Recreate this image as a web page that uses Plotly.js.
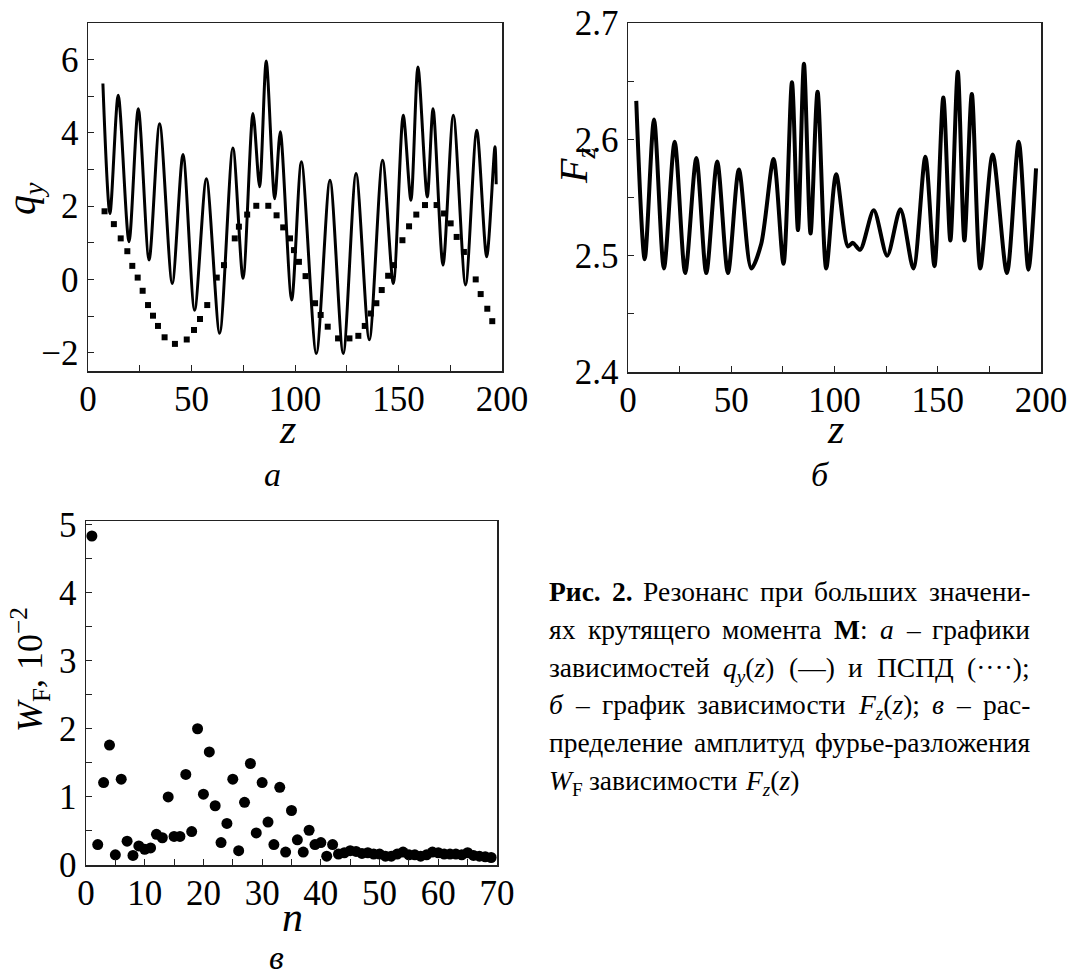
<!DOCTYPE html>
<html><head><meta charset="utf-8">
<script src="https://cdn.plot.ly/plotly-3.0.1.min.js"></script>
<style>body{margin:0;background:#fff}</style>
</head><body>
<div id="chart" style="width:1072px;height:980px"></div>
<script>
// ---------- data: panel а (q_y(z) and ПСПД) ----------
const qyZ = [7.2, 10.6, 14.6, 19.8, 24.3, 29.5, 34.6, 40.7, 45.9, 51.5, 57.2, 63.6, 70.0, 74.9, 79.7, 82.9, 86.1, 90.2, 92.9, 98.4, 103.1, 110.3, 116.9, 123.3, 129.5, 135.9, 142.3, 147.5, 152.3, 156.0, 159.4, 163.9, 166.7, 171.5, 176.5, 182.4, 187.8, 192.6, 196.6, 197.2];
const qyVal = [5.35, 1.8, 5.03, 1.03, 4.66, 0.53, 4.25, -0.11, 3.41, -0.84, 2.75, -1.47, 3.59, 0.03, 4.53, 2.53, 5.96, 2.2, 4.03, -0.56, 3.21, -2.02, 2.71, -2.02, 2.89, -1.65, 3.25, -0.11, 4.48, 2.16, 5.8, 2.25, 4.66, 0.39, 4.48, -0.15, 4.07, 0.62, 3.62, 2.6];
const pspdZ = [8.0, 12.5, 15.8, 19.0, 21.4, 24.0, 26.4, 29.0, 31.4, 33.8, 37.0, 42.0, 47.7, 51.2, 54.1, 57.6, 62.2, 65.7, 70.9, 72.9, 76.9, 81.3, 87.1, 91.1, 94.3, 97.6, 99.5, 101.9, 105.1, 109.7, 112.4, 115.8, 120.8, 126.3, 130.6, 133.7, 136.6, 139.3, 141.9, 145.0, 147.8, 151.9, 155.1, 158.6, 162.8, 168.4, 172.0, 175.2, 178.1, 181.6, 187.3, 189.7, 192.9, 195.3];
const pspdVal = [1.86, 1.51, 1.12, 0.77, 0.37, 0.05, -0.31, -0.70, -0.99, -1.27, -1.58, -1.76, -1.64, -1.38, -1.08, -0.70, 0.05, 0.39, 1.12, 1.44, 1.77, 2.01, 2.01, 1.75, 1.42, 1.12, 0.80, 0.48, 0.09, -0.65, -0.97, -1.29, -1.61, -1.61, -1.54, -1.27, -0.93, -0.65, -0.29, 0.10, 0.39, 1.07, 1.45, 1.77, 2.03, 2.03, 1.80, 1.53, 1.16, 0.75, 0.0, -0.4, -0.8, -1.14];

// ---------- data: panel б (F_z(z)) ----------
const fzZ = [4.0, 8.1, 12.6, 17.4, 22.6, 27.7, 33.1, 37.9, 43.2, 48.4, 53.7, 59.7, 64.5, 70.5, 75.3, 79.4, 82.3, 85.2, 88.4, 91.8, 96.0, 100.8, 106.5, 108.9, 112.4, 119.0, 125.5, 131.9, 138.2, 144.0, 148.4, 152.7, 156.1, 159.7, 162.9, 166.5, 170.6, 176.6, 183.5, 189.2, 193.9, 197.6];
const fzVal = [2.633, 2.497, 2.617, 2.489, 2.598, 2.485, 2.584, 2.485, 2.581, 2.485, 2.574, 2.489, 2.510, 2.583, 2.493, 2.649, 2.522, 2.665, 2.519, 2.641, 2.489, 2.570, 2.508, 2.511, 2.505, 2.539, 2.500, 2.540, 2.489, 2.585, 2.491, 2.636, 2.513, 2.658, 2.513, 2.639, 2.489, 2.587, 2.485, 2.598, 2.488, 2.575];

// ---------- data: panel в (W_F(n)) ----------
const nVals = [1,2,3,4,5,6,7,8,9,10,11,12,13,14,15,16,17,18,19,20,21,22,23,24,25,26,27,28,29,30,31,32,33,34,35,36,37,38,39,40,41,42,43,44,45,46,47,48,49,50,51,52,53,54,55,56,57,58,59,60,61,62,63,64,65,66,67,68,69];
const wfVals = [4.83,0.30,1.21,1.76,0.15,1.26,0.35,0.14,0.28,0.23,0.25,0.45,0.40,1.00,0.42,0.42,1.33,0.49,2.00,1.04,1.66,0.87,0.33,0.61,1.26,0.21,0.92,1.49,0.47,1.21,0.63,0.30,1.14,0.19,0.80,0.37,0.19,0.51,0.30,0.33,0.13,0.30,0.16,0.18,0.21,0.20,0.17,0.18,0.16,0.16,0.13,0.13,0.16,0.19,0.15,0.15,0.13,0.15,0.19,0.18,0.16,0.16,0.16,0.15,0.18,0.14,0.13,0.12,0.11];

// ---------- text ----------
const captionLines = [
  ["<b>Рис.</b>","<b>2.</b>","Резонанс","при","больших","значени-"],
  ["ях","крутящего","момента","<b>М</b>:","<i>а</i>","–","графики"],
  ["зависимостей","<i>q<sub>y</sub></i>(<i>z</i>)","(—)","и","ПСПД","(····);"],
  ["<i>б</i>","–","график","зависимости","<i>F<sub>z</sub></i>(<i>z</i>);","<i>в</i>","–","рас-"],
  ["пределение","амплитуд","фурье-разложения"],
  ["<i>W</i><sub>F</sub>","зависимости","<i>F<sub>z</sub></i>(<i>z</i>)"]
];

const W = 1072, H = 980;
const ctx = document.createElement('canvas').getContext('2d');
function hasFont(name) {
  const t = 'abcdefghijklmnopqrstuvwxyz0123456789WМжб';
  let r = false;
  ['monospace', 'sans-serif'].forEach(g => {
    ctx.font = '72px ' + g; const a = ctx.measureText(t).width;
    ctx.font = '72px "' + name + '", ' + g; const b = ctx.measureText(t).width;
    if (Math.abs(a - b) > 0.5) r = true;
  });
  return r;
}
const SERIF_NAME = ['Liberation Serif', 'Tinos', 'Times New Roman', 'DejaVu Serif', 'Noto Serif'].find(hasFont) || 'serif';
const FONT = SERIF_NAME;
const px = x => x / W, py = y => 1 - y / H;

function axis(domain, range, dtick, minorDtick, standoff) {
  return {
    domain: domain, range: range, dtick: dtick, tick0: 0,
    showline: true, mirror: true, linecolor: '#222', linewidth: 1.5,
    ticks: 'inside', ticklen: 6, tickwidth: 1, tickcolor: '#222',
    showgrid: false, zeroline: false, fixedrange: true,
    tickfont: {family: FONT, size: 35, color: '#000'},
    ticklabelstandoff: standoff,
    minor: {dtick: minorDtick, ticks: 'inside', ticklen: 6, tickwidth: 1, tickcolor: '#222', showgrid: false}
  };
}

const traces = [
  {x: qyZ, y: qyVal, xaxis: 'x', yaxis: 'y', mode: 'lines',
   line: {color: '#000', width: 3, shape: 'spline', smoothing: 0.8}},
  {x: pspdZ, y: pspdVal, xaxis: 'x', yaxis: 'y', mode: 'markers',
   marker: {symbol: 'square', size: 6, color: '#000'}},
  {x: fzZ, y: fzVal, xaxis: 'x2', yaxis: 'y2', mode: 'lines',
   line: {color: '#000', width: 4, shape: 'spline', smoothing: 0.8}},
  {x: nVals, y: wfVals, xaxis: 'x3', yaxis: 'y3', mode: 'markers',
   marker: {symbol: 'circle', size: 11, color: '#000'}}
];

function ann(text, x, y, size, extra) {
  return Object.assign({text: text, x: px(x), y: py(y), xref: 'paper', yref: 'paper',
    showarrow: false, xanchor: 'center', yanchor: 'middle',
    font: {family: FONT, size: size, color: '#000'}}, extra || {});
}

const annotations = [
  ann('<i>q</i><sub><i>y</i></sub>', 24, 199, 40, {textangle: -90}),
  ann('<i>F</i><sub><i>z</i></sub>', 576, 166, 40, {textangle: -90}),
  ann('<i>W</i><sub>F</sub>, 10<sup>−2</sup>', 30, 670, 36, {textangle: -90}),
  ann('<i>z</i>', 287, 429, 42),
  ann('<i>z</i>', 835, 429, 42),
  ann('<i>n</i>', 292, 917, 42),
  ann('<i>а</i>', 272, 474, 34),
  ann('<i>б</i>', 820, 474, 34),
  ann('<i>в</i>', 276, 957, 34)
];

// caption: justified lines, words placed with canvas-measured widths
function measure(html, size) {
  let w = 0, b = false, it = false, sub = false;
  html.split(/(<\/?[a-z]+>)/).forEach(p => {
    if (!p) return;
    const m = p.match(/^<(\/?)([a-z]+)>$/);
    if (m) { const on = !m[1]; if (m[2] === 'b') b = on; else if (m[2] === 'i') it = on; else sub = on; return; }
    const s = sub ? size * 0.7 : size;
    ctx.font = (it ? 'italic ' : '') + (b ? 'bold ' : '') + s + 'px "' + SERIF_NAME + '", serif';
    w += ctx.measureText(p).width;
  });
  return w;
}
const CAP_SIZE = 27.5, CAP_L = 549, CAP_R = 1030, CAP_TOP = 574, CAP_STEP = 37.8;
ctx.font = CAP_SIZE + 'px "' + SERIF_NAME + '", serif';
const spaceW = ctx.measureText(' ').width;
captionLines.forEach((words, li) => {
  const widths = words.map(w => measure(w, CAP_SIZE));
  const total = widths.reduce((a, b) => a + b, 0);
  const last = li === captionLines.length - 1;
  const gap = last ? spaceW : Math.max(spaceW * 0.8, (CAP_R - CAP_L - total) / (words.length - 1));
  let x = CAP_L;
  words.forEach((w, i) => {
    annotations.push(ann(w, x - 2, CAP_TOP + li * CAP_STEP, CAP_SIZE, {xanchor: 'left', yanchor: 'top'}));
    x += widths[i] + gap;
  });
});

const layout = {
  width: W, height: H, margin: {l: 0, r: 0, t: 0, b: 0},
  paper_bgcolor: '#fff', plot_bgcolor: '#fff', showlegend: false,
  font: {family: FONT, color: '#000'},
  xaxis: Object.assign(axis([px(88), px(502)], [0, 200], 50, 25, -4), {anchor: 'y'}),
  yaxis: Object.assign(axis([py(371), py(23)], [-2.5, 7], 2, 1, 1), {anchor: 'x'}),
  xaxis2: Object.assign(axis([px(628), px(1041)], [0, 200], 50, 25, -4), {anchor: 'y2'}),
  yaxis2: Object.assign(axis([py(372), py(23)], [2.4, 2.7], 0.1, 0.05, 1), {anchor: 'x2'}),
  xaxis3: Object.assign(axis([px(86), px(497)], [0, 70], 10, 5, -4), {anchor: 'y3'}),
  yaxis3: Object.assign(axis([py(865), py(521)], [0, 5.05], 1, 0.5, 1), {anchor: 'x3'}),
  annotations: annotations
};

Plotly.newPlot('chart', traces, layout, {staticPlot: true, displayModeBar: false});
</script>
</body></html>
